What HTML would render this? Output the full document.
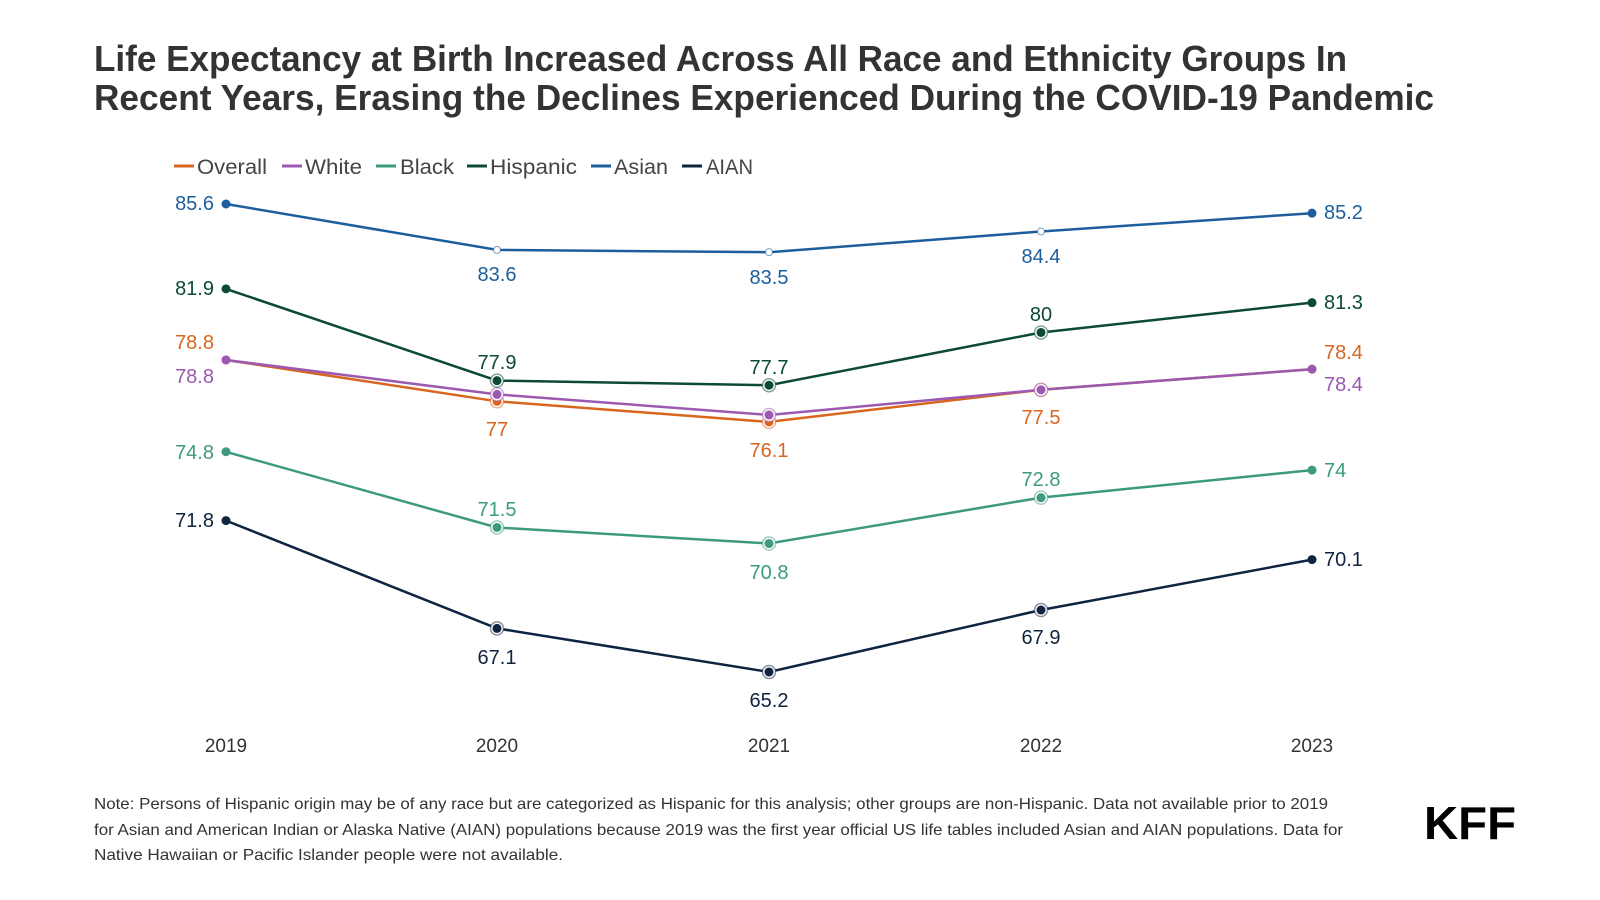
<!DOCTYPE html>
<html><head><meta charset="utf-8"><style>
html,body{margin:0;padding:0;background:#fff;}
svg{display:block;font-family:"Liberation Sans",sans-serif;}
</style></head><body>
<svg width="1600" height="900" viewBox="0 0 1600 900" xmlns="http://www.w3.org/2000/svg">
<text x="94" y="71" font-size="36" font-weight="bold" fill="#333" textLength="1253" lengthAdjust="spacingAndGlyphs">Life Expectancy at Birth Increased Across All Race and Ethnicity Groups In</text>
<text x="94" y="110" font-size="36" font-weight="bold" fill="#333" textLength="1340" lengthAdjust="spacingAndGlyphs">Recent Years, Erasing the Declines Experienced During the COVID-19 Pandemic</text>
<g font-size="21" fill="#444">
<line x1="174" y1="166" x2="194" y2="166" stroke="#d9661f" stroke-width="3"/><text x="197" y="174" textLength="70" lengthAdjust="spacingAndGlyphs">Overall</text>
<line x1="282" y1="166" x2="302" y2="166" stroke="#9b59b0" stroke-width="3"/><text x="305" y="174" textLength="57" lengthAdjust="spacingAndGlyphs">White</text>
<line x1="376" y1="166" x2="396" y2="166" stroke="#3d9a80" stroke-width="3"/><text x="400" y="174" textLength="54" lengthAdjust="spacingAndGlyphs">Black</text>
<line x1="467" y1="166" x2="487" y2="166" stroke="#0c4a35" stroke-width="3"/><text x="490" y="174" textLength="87" lengthAdjust="spacingAndGlyphs">Hispanic</text>
<line x1="591" y1="166" x2="611" y2="166" stroke="#1d5e9c" stroke-width="3"/><text x="614" y="174" textLength="54" lengthAdjust="spacingAndGlyphs">Asian</text>
<line x1="682" y1="166" x2="702" y2="166" stroke="#0f2440" stroke-width="3"/><text x="706" y="174" textLength="47" lengthAdjust="spacingAndGlyphs">AIAN</text>
</g>
<g id="chart"></g>
<g font-size="19" fill="#333" text-anchor="middle">
<text x="226" y="752">2019</text><text x="497" y="752">2020</text><text x="769" y="752">2021</text><text x="1041" y="752">2022</text><text x="1312" y="752">2023</text>
</g>
<g font-size="16" fill="#333">
<text x="94" y="809" textLength="1234" lengthAdjust="spacingAndGlyphs">Note: Persons of Hispanic origin may be of any race but are categorized as Hispanic for this analysis; other groups are non-Hispanic. Data not available prior to 2019</text>
<text x="94" y="835" textLength="1249" lengthAdjust="spacingAndGlyphs">for Asian and American Indian or Alaska Native (AIAN) populations because 2019 was the first year official US life tables included Asian and AIAN populations. Data for</text>
<text x="94" y="860" textLength="469" lengthAdjust="spacingAndGlyphs">Native Hawaiian or  Pacific Islander people were not available.</text>
</g>
<text x="1424" y="839" font-size="46" font-weight="bold" fill="#000" textLength="92" lengthAdjust="spacingAndGlyphs">KFF</text>
</svg>
<script>
var xs=[226,497,769,1041,1312];
function Y(v){return 204+(85.6-v)*22.94;}
var S=[
{c:"#3d9a80",v:[74.8,71.5,70.8,72.8,74],l:[[214,459,"end"],[497,516],[769,579],[1041,486],[1324,477,"start"]]},
{c:"#0f2440",v:[71.8,67.1,65.2,67.9,70.1],l:[[214,527,"end"],[497,664],[769,707],[1041,644],[1324,566,"start"]]},
{c:"#d9661f",v:[78.8,77,76.1,77.5,78.4],l:[[214,349,"end"],[497,436],[769,457],[1041,424],[1324,359,"start"]]},
{c:"#9b59b0",v:[78.8,77.3,76.4,77.5,78.4],l:[[214,383,"end"],null,null,null,[1324,391,"start"]]},
{c:"#0c4a35",v:[81.9,77.9,77.7,80,81.3],l:[[214,295,"end"],[497,369],[769,374],[1041,321],[1324,309,"start"]]},
{c:"#1d5e9c",v:[85.6,83.6,83.5,84.4,85.2],l:[[214,210,"end"],[497,281],[769,284],[1041,263],[1324,219,"start"]],hollow:true}
];
var h="";
S.forEach(function(s){
 var p=s.v.map(function(v,i){return xs[i]+","+Y(v).toFixed(1);}).join(" ");
 h+='<polyline points="'+p+'" fill="none" stroke="'+s.c+'" stroke-width="2.5"/>';
 s.v.forEach(function(v,i){
  var y=Y(v);
  if(i==0||i==4){h+='<circle cx="'+xs[i]+'" cy="'+y+'" r="4.5" fill="'+s.c+'"/>';}
  else if(s.hollow){h+='<circle cx="'+xs[i]+'" cy="'+y+'" r="3.5" fill="#fff" stroke="'+s.c+'" stroke-opacity="0.6" stroke-width="1"/>';}
  else{h+='<circle cx="'+xs[i]+'" cy="'+y+'" r="6.5" fill="#fff" stroke="'+s.c+'" stroke-opacity="0.5" stroke-width="1.5"/><circle cx="'+xs[i]+'" cy="'+y+'" r="4.5" fill="'+s.c+'"/>';}
 });
 s.l.forEach(function(l,i){ if(!l)return;
  h+='<text x="'+l[0]+'" y="'+l[1]+'" font-size="20" fill="'+s.c+'" text-anchor="'+(l[2]||"middle")+'">'+s.v[i]+'</text>';});
});
document.getElementById("chart").innerHTML=h;
</script>
</body></html>
